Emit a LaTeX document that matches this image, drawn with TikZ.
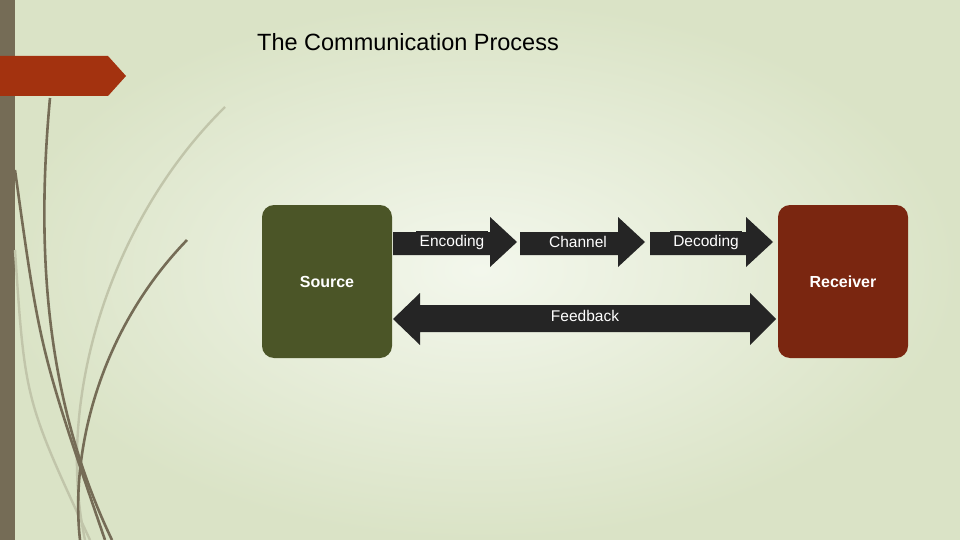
\documentclass[tikz,border=0pt]{standalone}
\usepackage{fontspec}
\setmainfont{Liberation Sans}
\definecolor{bgin}{HTML}{F3F7EC}
\definecolor{bgout}{HTML}{DAE3C6}
\definecolor{barc}{HTML}{756C56}
\definecolor{tabc}{HTML}{A3320F}
\definecolor{srcc}{HTML}{4B5527}
\definecolor{rcvc}{HTML}{7A2610}
\definecolor{arrc}{HTML}{252525}
\begin{document}
\begin{tikzpicture}[x=1pt,y=-1pt,
  box/.style={rounded corners=12pt,text=white,font=\bfseries\fontsize{16}{18}\selectfont},
  phase/.style={fill=arrc,text=white,font=\fontsize{15.5}{18}\selectfont},
  stroke/.style={draw=barc,line width=2.6pt},
  faint/.style={draw=barc!25!bgout,line width=2.4pt}]
% background
\shade[inner color=bgin,outer color=bgout] (0,0) rectangle (960,540);
\useasboundingbox (0,0) rectangle (960,540);
\fill[barc] (0,0) rectangle (15,540);
\fill[tabc] (0,56) -- (108,56) -- (126,76) -- (108,96) -- (0,96) -- cycle;
% grass
\draw[faint] (225,107) .. controls (110,220) and (55,400) .. (85,540);
\draw[faint] (15,250) .. controls (25,400) .. (90,540);
\draw[stroke] (50,98) .. controls (36,250) and (45,400) .. (112,540);
\draw[stroke] (15,170) .. controls (40,350) .. (105,540);
\draw[stroke] (187,240) .. controls (100,330) and (70,450) .. (80,540);
% title
\node (title) at (408,42) {\fontsize{23.5}{28}\selectfont The Communication Process};
% boxes
\fill[srcc,box] (262,205) rectangle (392,358);
\node[box] (source) at (327,282) {Source};
\fill[rcvc,box] (778,205) rectangle (908,358);
\node[box] (receiver) at (843,282) {Receiver};
% forward arrows
\fill[phase] (393,232) -- (490,232) -- (490,217) -- (517,242) -- (490,267) -- (490,255) -- (393,255) -- cycle;
\node[phase] (enc) at (452,242) {Encoding};
\fill[phase] (520,232) -- (618,232) -- (618,217) -- (645,242) -- (618,267) -- (618,255) -- (520,255) -- cycle;
\node[phase] (chan) at (578,242) {Channel};
\fill[phase] (650,232) -- (746,232) -- (746,217) -- (773,242) -- (746,267) -- (746,255) -- (650,255) -- cycle;
\node[phase] (dec) at (706,242) {Decoding};
% feedback
\fill[phase] (393,319) -- (420,293) -- (420,305) -- (750,305) -- (750,293) -- (776,319) -- (750,345) -- (750,332) -- (420,332) -- (420,345) -- cycle;
\node[phase] (fb) at (585,316) {Feedback};
\end{tikzpicture}
\end{document}
